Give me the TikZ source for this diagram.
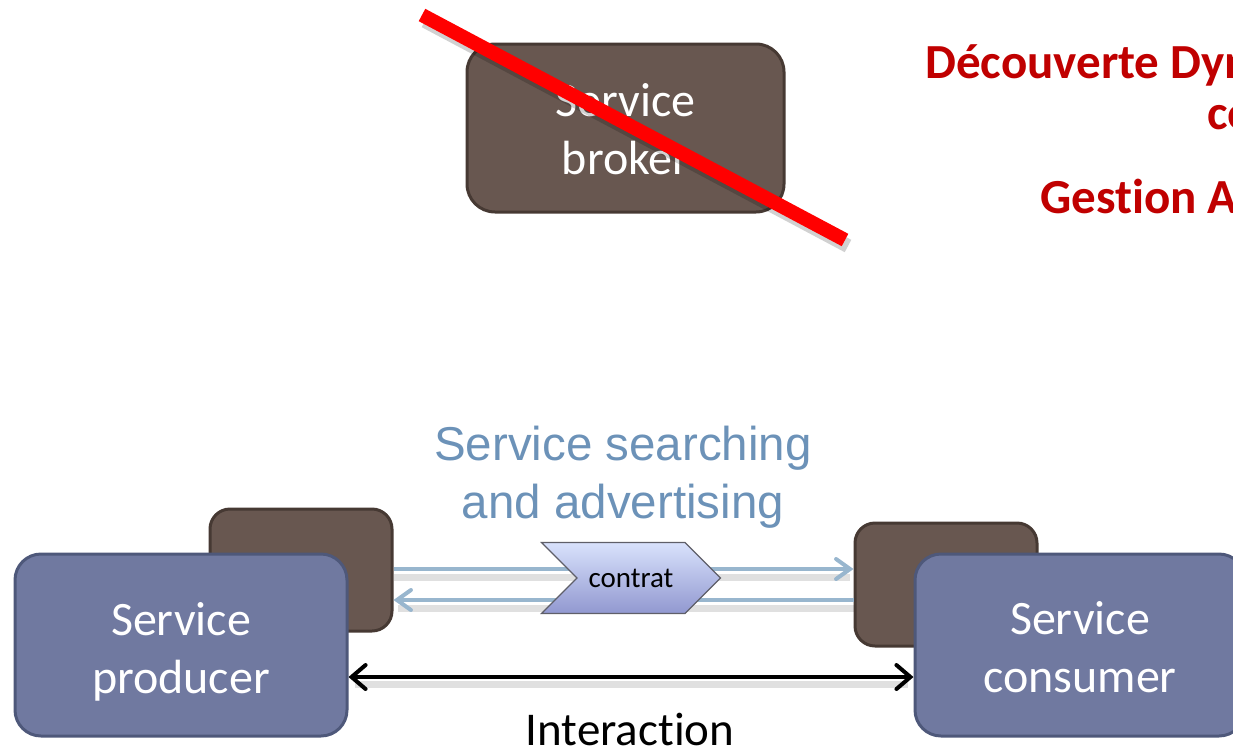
\documentclass[tikz,border=0pt]{standalone}
\usepackage{fontspec}
\setmainfont{Carlito}[Ligatures=NoCommon]
\newfontfamily\arialfont{Liberation Sans}
\usetikzlibrary{arrows.meta,shapes.symbols,calc}

\definecolor{brownfill}{RGB}{104,87,80}
\definecolor{brownline}{RGB}{70,57,51}
\definecolor{bluefill}{RGB}{112,121,160}
\definecolor{blueline}{RGB}{78,88,122}
\definecolor{linkblue}{RGB}{152,182,206}
\definecolor{titleblue}{RGB}{108,146,184}
\definecolor{alertred}{RGB}{192,0,0}
\definecolor{chevtop}{RGB}{216,226,252}
\definecolor{chevbot}{RGB}{146,152,208}
\definecolor{chevline}{RGB}{95,95,105}

\tikzset{
  agent/.style={draw=blueline, fill=bluefill, line width=3pt, rounded corners=26pt,
    inner sep=0pt},
  endpoint/.style={draw=brownline, fill=brownfill, line width=3pt, rounded corners=20pt,
    inner sep=0pt},
  brokerbox/.style={draw=brownline, fill=brownfill, line width=3pt, rounded corners=28pt,
    inner sep=0pt},
  boxtext/.style={text=white, align=center, font=\fontsize{48}{58}\selectfont, inner sep=0pt},
  link/.style={draw=linkblue, line width=4pt,
    -{Straight Barb[length=14pt,width=20pt,line cap=round]}},
  linkshadow/.style={draw=black, opacity=0.12, line width=7pt},
  interact/.style={draw=black, line width=4pt,
    {Straight Barb[length=14pt,width=24pt,line cap=round]}-{Straight Barb[length=14pt,width=24pt,line cap=round]}},
  alert/.style={text=alertred, font=\bfseries\fontsize{49}{58}\selectfont, inner sep=0pt, anchor=base west},
  caption/.style={text=titleblue, align=center, font=\arialfont\fontsize{47.5}{58}\selectfont, inner sep=0pt},
  contract/.style={signal, signal from=west, signal to=east, signal pointer angle=90,
    minimum width=179pt, minimum height=71pt, inner sep=0pt,
    top color=chevtop, bottom color=chevbot, draw=chevline, line width=1.2pt,
    font=\fontsize{29}{34}\selectfont},
}

\begin{document}
\begin{tikzpicture}[x=1pt,y=-1pt]
\useasboundingbox (0,0) rectangle (1233,750);
\clip (0,0) rectangle (1233,750);

% the struck-out broker
\node[brokerbox, minimum width=317pt, minimum height=168pt] (broker) at (625.5,128) {};
\node[boxtext] (brokertext) at ($(broker.center)+(0,1.5)$) {Service\\broker};
\coordinate (strikeA) at (422,15);
\coordinate (strikeB) at (845,240);
\draw[line width=14pt, black, opacity=0.18] ($(strikeA)+(3,6)$) -- ($(strikeB)+(3,6)$);
\draw[line width=14pt, red] (strikeA) -- (strikeB);

% red headings on the right
\node[alert] (h1) at (925,78) {Découverte Dyn};
\node[alert] (h2) at (1207,129) {co};
\node[alert] (h3) at (1040,213) {Gestion A};

% blue caption
\node[caption] (cap) at (623,477) {Service searching\\and advertising};

% endpoints behind the agents
\node[endpoint, minimum width=182pt, minimum height=122pt] (pend) at (301,570) {};
\node[endpoint, minimum width=182pt, minimum height=123pt] (cend) at (946,584.5) {};

% advertising / searching links
\coordinate (pUp) at ($(pend.east)+(0,-1)$);
\coordinate (pDn) at ($(pend.east)+(0,30)$);
\coordinate (cUp) at ($(cend.west)+(0,-15.5)$);
\coordinate (cDn) at ($(cend.west)+(0,15.5)$);
\draw[linkshadow] ($(pUp)+(0,8)$) -- ($(cUp)+(-4,8)$);
\draw[linkshadow] ($(cDn)+(0,8)$) -- ($(pDn)+(4,8)$);
\draw[link] (pUp) -- (cUp);
\draw[link] (cDn) -- (pDn);

% the contract
\node[contract] (contrat) at (631,578) {contrat};

% agents
\node[agent, minimum width=332pt, minimum height=182pt] (prod) at (181,645) {};
\node[boxtext] (prodtext) at ($(prod.center)+(0,7)$) {Service\\producer};
\node[agent, minimum width=330pt, minimum height=182pt] (cons) at (1080,645) {};
\node[boxtext] (constext) at ($(cons.center)+(0,2.5)$) {Service\\consumer};

% interaction
\coordinate (iL) at ($(prod.east)+(0,32)$);
\coordinate (iR) at ($(cons.west)+(0,32)$);
\draw[linkshadow] ($(iL)+(6,7)$) -- ($(iR)+(-6,7)$);
\draw[interact] (iL) -- (iR);
\node[font=\fontsize{47}{56}\selectfont, anchor=base, inner sep=0pt] (ilabel) at (630,745) {Interaction};
\end{tikzpicture}
\end{document}
